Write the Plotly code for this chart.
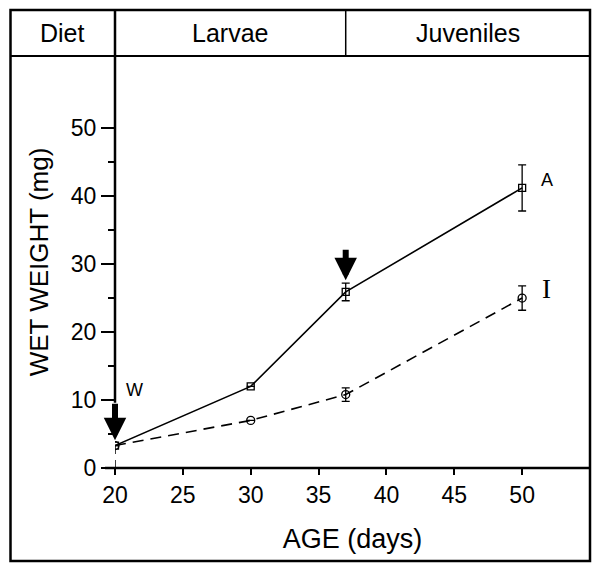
import plotly.graph_objects as go

# Data
age_days = [20, 30, 37, 50]
weight_A = [3.3, 12.0, 25.9, 41.2]
err_A = [0.0, 0.0, 1.3, 3.4]
weight_I = [3.3, 7.0, 10.8, 25.0]
err_I = [0.0, 0.0, 1.0, 1.8]
x_ticks = [20, 25, 30, 35, 40, 45, 50]
y_ticks = [0, 10, 20, 30, 40, 50]
y_minor = [5, 15, 25, 35, 45]
header_labels = ["Diet", "Larvae", "Juveniles"]
diet_switch_day = 37
arrow_days = [20, 37]

X_RANGE = [20, 55]
Y_RANGE = [0, 60.6]

FONT = "Liberation Sans, Arial, sans-serif"

fig = go.Figure()

# dashed drop line from first point to axis
fig.add_trace(go.Scatter(
    x=[age_days[0], age_days[0]], y=[0, weight_I[0]], mode="lines",
    line=dict(color="black", width=1.5, dash="8px,6px"), showlegend=False,
    hoverinfo="skip"))

fig.add_trace(go.Scatter(
    x=age_days, y=weight_I, mode="lines+markers",
    line=dict(color="black", width=1.6, dash="11px,7px"),
    marker=dict(symbol="circle-open", size=8, color="black", line=dict(width=1.3)),
    error_y=dict(type="data", array=err_I, color="black", thickness=1.3, width=4),
    showlegend=False))

fig.add_trace(go.Scatter(
    x=age_days, y=weight_A, mode="lines+markers",
    line=dict(color="black", width=1.6),
    marker=dict(symbol="square-open", size=7, color="black", line=dict(width=1.3)),
    error_y=dict(type="data", array=err_A, color="black", thickness=1.3, width=4),
    showlegend=False))

def xp(day):
    return (day - X_RANGE[0]) / (X_RANGE[1] - X_RANGE[0])

def yp(val):
    return (val - Y_RANGE[0]) / (Y_RANGE[1] - Y_RANGE[0])

frame_left, frame_right = -0.22, 1.0
frame_bottom, frame_top = -0.2257, 1.1117

shapes = [
    dict(type="rect", xref="paper", yref="paper", x0=frame_left, x1=frame_right,
         y0=frame_bottom, y1=frame_top, line=dict(color="black", width=2.5)),
    dict(type="line", xref="paper", yref="paper", x0=frame_left, x1=frame_right,
         y0=1, y1=1, line=dict(color="black", width=2)),
    dict(type="line", xref="paper", yref="paper", x0=xp(diet_switch_day), x1=xp(diet_switch_day),
         y0=1, y1=frame_top, line=dict(color="black", width=1.5)),
    # y axis line
    dict(type="line", xref="paper", yref="paper", x0=0, x1=0,
         y0=yp(9.6), y1=frame_top, line=dict(color="black", width=2.5)),
    # x axis line
    dict(type="line", xref="paper", yref="paper", x0=-0.021, x1=frame_right,
         y0=0, y1=0, line=dict(color="black", width=2.5)),
]

hdr_y = (1 + frame_top) / 2
hdr_font = dict(size=25, family=FONT, color="black")
annotations = [
    dict(xref="paper", yref="paper", x=(frame_left + 0) / 2, y=hdr_y, xanchor="center", yanchor="middle",
         text=header_labels[0], showarrow=False, font=hdr_font),
    dict(xref="paper", yref="paper", x=xp(diet_switch_day) / 2, y=hdr_y, xanchor="center", yanchor="middle",
         text=header_labels[1], showarrow=False, font=hdr_font),
    dict(xref="paper", yref="paper", x=(xp(diet_switch_day) + 1) / 2, y=hdr_y, xanchor="center", yanchor="middle",
         text=header_labels[2], showarrow=False, font=hdr_font),
    dict(x=21.4, y=11.5, text="W", showarrow=False, font=dict(size=18, family=FONT, color="black")),
    dict(x=51.8, y=42.4, text="A", showarrow=False, font=dict(size=18, family=FONT, color="black")),
    dict(x=51.8, y=26.3, text="I", showarrow=False, font=dict(size=27, family="Liberation Serif, serif", color="black")),
]
for d in arrow_days:
    idx = age_days.index(d)
    tip = weight_A[idx] + err_A[idx] + (0.8 if d == 20 else 0.4)
    annotations.append(dict(x=d, y=tip, ax=0, ay=-38 if d == 20 else -32, axref="pixel", ayref="pixel",
                            showarrow=True, arrowhead=2, arrowsize=0.75, arrowwidth=6,
                            arrowcolor="black", text=""))

fig.update_layout(
    width=600, height=570,
    margin=dict(l=115, r=10, t=56, b=102),
    paper_bgcolor="white", plot_bgcolor="white",
    font=dict(family=FONT, color="black"),
    shapes=shapes, annotations=annotations,
    xaxis=dict(range=X_RANGE, tickvals=x_ticks, ticks="outside", ticklen=6, tickwidth=2,
               tickcolor="black", showline=False, showgrid=False, zeroline=False,
               tickfont=dict(size=23, family=FONT),
               title=dict(text="AGE (days)", font=dict(size=27, family=FONT), standoff=22)),
    yaxis=dict(range=Y_RANGE, tickvals=y_ticks, ticks="outside", ticklen=13, tickwidth=2,
               tickcolor="black", showline=False, showgrid=False, zeroline=False,
               tickfont=dict(size=23, family=FONT),
               minor=dict(tickvals=y_minor, ticks="outside", ticklen=6, tickwidth=2, tickcolor="black"),
               title=dict(text="WET WEIGHT (mg)", font=dict(size=26, family=FONT), standoff=14)),
)

fig.write_html("out.html", config={"displayModeBar": False},
               post_script="document.body.style.margin='0';document.body.style.overflow='hidden';")
